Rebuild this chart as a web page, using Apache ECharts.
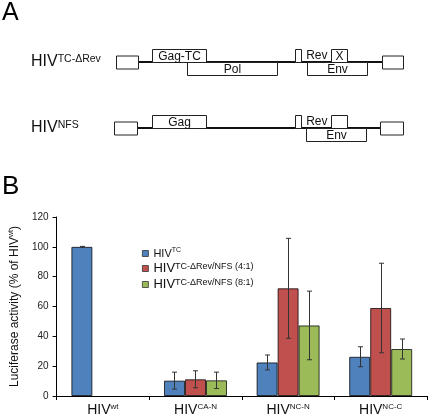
<!DOCTYPE html>
<html><head><meta charset="utf-8">
<script src="https://cdn.jsdelivr.net/npm/echarts@6/dist/echarts.min.js"></script>
<style>html,body{margin:0;padding:0;background:#fff}#c{width:430px;height:419px}</style>
</head><body><div id="c"></div>
<script>
// ---------- Panel B data ----------
const categories = ['wt', 'CA-N', 'NC-N', 'NC-C'];
const seriesNames = ['TC', 'TC-\u0394Rev/NFS (4:1)', 'TC-\u0394Rev/NFS (8:1)'];
const valuesTC = [100, 10.3, 22.5, 26.3];
const values41 = [null, 11.2, 72.2, 59.0];
const values81 = [null, 10.5, 47.3, 31.5];
const errTC = [0.3, 5.7, 5.0, 6.7];
const err41 = [null, 5.7, 33.5, 30.0];
const err81 = [null, 5.5, 23.0, 6.7];
const yTickLabels = ['0', '20', '40', '60', '80', '100', '120'];

// ---------- Panel A (schematic genome maps) ----------
const constructs = ['TC-\u0394Rev', 'NFS'];
// [row, start, end, lane(1 above, -1 below, 0 centred)]
const mapSegments = [
  [0, 0, 7.7, 0], [0, 12.5, 31.4, 1], [0, 24.7, 56.1, -1], [0, 62.4, 64.5, 1],
  [0, 74.9, 80.5, 1], [0, 66.6, 87.5, -1], [0, 92.7, 100, 0],
  [1, -0.7, 7.3, 0], [1, 12.5, 31.4, 1], [1, 62.4, 64.5, 1],
  [1, 74.9, 80.5, 1], [1, 66.2, 87.1, -1], [1, 92.0, 100, 0]
];
const mapLabels = ['', 'Gag-TC', 'Pol', '', 'X', 'Env', '', '', 'Gag', '', '', 'Env', ''];
const backbones = [[0, 7.7, 92.7], [1, 7.3, 92.0]];
const revLabels = [[0, 70.0], [1, 70.0]];

const NARROW = '"Liberation Sans Narrow", "Arial Narrow", "Liberation Sans", Arial, sans-serif';
const SANS = '"Liberation Sans", Arial, sans-serif';
const colors = ['#4F81BD', '#C0504D', '#9BBB59'];

const chart = echarts.init(document.getElementById('c'), null, {renderer: 'canvas'});

function errRender(params, api) {
  const cat = api.value(0), mean = api.value(1), err = api.value(2), si = api.value(3);
  if (isNaN(mean) || isNaN(err)) return null;
  const hi = api.coord([cat, mean + err]);
  const lo = api.coord([cat, mean - err]);
  const x = Math.round(hi[0] + (si - 1) * 21) + 0.5;
  const cw = 2.5;
  const st = {stroke: '#333', lineWidth: 1};
  return {type: 'group', children: [
    {type: 'line', shape: {x1: x, y1: hi[1], x2: x, y2: lo[1]}, style: st},
    {type: 'line', shape: {x1: x - cw, y1: hi[1], x2: x + cw, y2: hi[1]}, style: st},
    {type: 'line', shape: {x1: x - cw, y1: lo[1], x2: x + cw, y2: lo[1]}, style: st}
  ]};
}
function errData(means, errs, si) {
  return means.map((m, i) => [i, m == null ? NaN : m, errs[i] == null ? NaN : errs[i], si]);
}

function geneRender(params, api) {
  const row = api.value(0), s = api.value(1), e = api.value(2), lane = api.value(3);
  const p1 = api.coord([s, row]), p2 = api.coord([e, row]);
  const h = 13;
  const yc = Math.round(p1[1]);
  let y0 = lane === 1 ? yc - h : (lane === -1 ? yc : yc - h / 2);
  const x0 = Math.round(p1[0]) + 0.5, w = Math.round(p2[0] - p1[0]);
  const label = mapLabels[params.dataIndex];
  const children = [{type: 'rect', shape: {x: x0, y: y0 + 0.5, width: w, height: h}, style: {fill: '#fff', stroke: '#222', lineWidth: 1}}];
  if (label) children.push({type: 'text', style: {text: label, x: x0 + w / 2, y: y0 + h / 2 + 1, align: 'center', verticalAlign: 'middle', fontFamily: SANS, fontSize: 12, fill: '#111'}});
  return {type: 'group', children};
}
function lineRender(params, api) {
  const row = api.value(0);
  const p1 = api.coord([api.value(1), row]), p2 = api.coord([api.value(2), row]);
  const y = Math.round(p1[1]);
  return {type: 'line', shape: {x1: p1[0], y1: y, x2: p2[0], y2: y}, style: {stroke: '#111', lineWidth: 2}};
}
function revRender(params, api) {
  const p = api.coord([api.value(1), api.value(0)]);
  return {type: 'text', style: {text: 'Rev', x: p[0], y: p[1] - 6, align: 'center', verticalAlign: 'middle', fontFamily: SANS, fontSize: 12, fill: '#111'}};
}

const option = {
  animation: false,
  backgroundColor: '#fff',
  graphic: [
    {type: 'text', left: 2, top: 1, style: {text: 'A', fontFamily: SANS, fontSize: 25, fill: '#000'}},
    {type: 'text', left: 2, top: 174, style: {text: 'B', fontFamily: SANS, fontSize: 26, fill: '#000'}}
  ],
  grid: [
    {left: 49, right: 3, top: 217, bottom: 23, containLabel: false},
    {left: 113, right: 27, top: 29, height: 132, containLabel: false}
  ],
  legend: {
    data: seriesNames,
    orient: 'vertical', left: 137, top: 242,
    itemWidth: 6, itemHeight: 6, itemGap: 3, icon: 'rect',
    itemStyle: {borderColor: '#333', borderWidth: 0.8},
    formatter: function (name) {
      const i = seriesNames.indexOf(name);
      return i === 0 ? '{a|HIV}{sa|' + name + '}' : '{b|HIV}{sb|' + name + '}';
    },
    textStyle: {
      color: '#111',
      rich: {
        a: {fontFamily: NARROW, fontSize: 11, lineHeight: 13, color: '#111'},
        sa: {fontFamily: NARROW, fontSize: 7, lineHeight: 8, verticalAlign: 'top', color: '#111'},
        b: {fontFamily: NARROW, fontSize: 13, lineHeight: 12, color: '#111'},
        sb: {fontFamily: NARROW, fontSize: 9, lineHeight: 9, verticalAlign: 'top', color: '#111'}
      }
    }
  },
  xAxis: [
    {
      type: 'category', gridIndex: 0, data: categories,
      axisLine: {lineStyle: {color: '#000', width: 1}},
      axisTick: {show: true, length: 4, alignWithLabel: false, interval: 0, lineStyle: {color: '#000'}},
      axisLabel: {
        margin: 7, color: '#111', interval: 0,
        formatter: v => '{h|HIV}{s|' + v + '}',
        rich: {
          h: {fontFamily: NARROW, fontSize: 14, lineHeight: 14, color: '#111'},
          s: {fontFamily: NARROW, fontSize: 8, lineHeight: 8, verticalAlign: 'top', color: '#111'}
        }
      },
      splitLine: {show: false}
    },
    {type: 'value', gridIndex: 1, min: -1, max: 100, show: false}
  ],
  yAxis: [
    {
      type: 'value', gridIndex: 0, min: 0, max: 120, interval: 20,
      axisLine: {show: true, lineStyle: {color: '#000', width: 1}},
      axisTick: {show: true, length: 4, lineStyle: {color: '#000'}},
      splitLine: {show: false},
      axisLabel: {margin: 8, fontFamily: SANS, fontSize: 10, color: '#222',
        formatter: v => yTickLabels[Math.round(v / 20)]},
      name: '{n|Luciferase activity (% of HIV}{s|wt}{n|)}',
      nameLocation: 'middle', nameRotate: 90, nameGap: 31,
      nameTextStyle: {
        rich: {
          n: {fontFamily: SANS, fontSize: 12, lineHeight: 14, color: '#111'},
          s: {fontFamily: SANS, fontSize: 7, lineHeight: 7, verticalAlign: 'top', color: '#111'}
        }
      }
    },
    {
      type: 'category', gridIndex: 1, data: constructs, inverse: true,
      axisLine: {show: false}, axisTick: {show: false}, splitLine: {show: false},
      axisLabel: {
        align: 'left', margin: 82, interval: 0,
        formatter: v => '{h|HIV}{s|' + v + '}',
        rich: {
          h: {fontFamily: NARROW, fontSize: 16, lineHeight: 16, color: '#111'},
          s: {fontFamily: NARROW, fontSize: 10.5, lineHeight: 10, verticalAlign: 'top', color: '#111'}
        }
      }
    }
  ],
  series: [
    {name: seriesNames[0], type: 'bar', xAxisIndex: 0, yAxisIndex: 0, data: valuesTC, barWidth: 21, barGap: '0%',
      itemStyle: {color: colors[0], borderColor: 'rgba(0,0,0,0.75)', borderWidth: 1}},
    {name: seriesNames[1], type: 'bar', xAxisIndex: 0, yAxisIndex: 0, data: values41, barWidth: 21, barGap: '0%',
      itemStyle: {color: colors[1], borderColor: 'rgba(0,0,0,0.75)', borderWidth: 1}},
    {name: seriesNames[2], type: 'bar', xAxisIndex: 0, yAxisIndex: 0, data: values81, barWidth: 21, barGap: '0%',
      itemStyle: {color: colors[2], borderColor: 'rgba(0,0,0,0.75)', borderWidth: 1}},
    {type: 'custom', xAxisIndex: 0, yAxisIndex: 0, renderItem: errRender, data: errData(valuesTC, errTC, 0), z: 5, encode: {x: 0, y: [1, 2]}},
    {type: 'custom', xAxisIndex: 0, yAxisIndex: 0, renderItem: errRender, data: errData(values41, err41, 1), z: 5, encode: {x: 0, y: [1, 2]}},
    {type: 'custom', xAxisIndex: 0, yAxisIndex: 0, renderItem: errRender, data: errData(values81, err81, 2), z: 5, encode: {x: 0, y: [1, 2]}},
    {type: 'custom', xAxisIndex: 1, yAxisIndex: 1, renderItem: lineRender, data: backbones, z: 2, encode: {x: [1, 2], y: 0}},
    {type: 'custom', xAxisIndex: 1, yAxisIndex: 1, renderItem: geneRender, data: mapSegments, z: 3, encode: {x: [1, 2], y: 0}},
    {type: 'custom', xAxisIndex: 1, yAxisIndex: 1, renderItem: revRender, data: revLabels, z: 3, encode: {x: 1, y: 0}}
  ]
};
chart.setOption(option);
</script></body></html>
